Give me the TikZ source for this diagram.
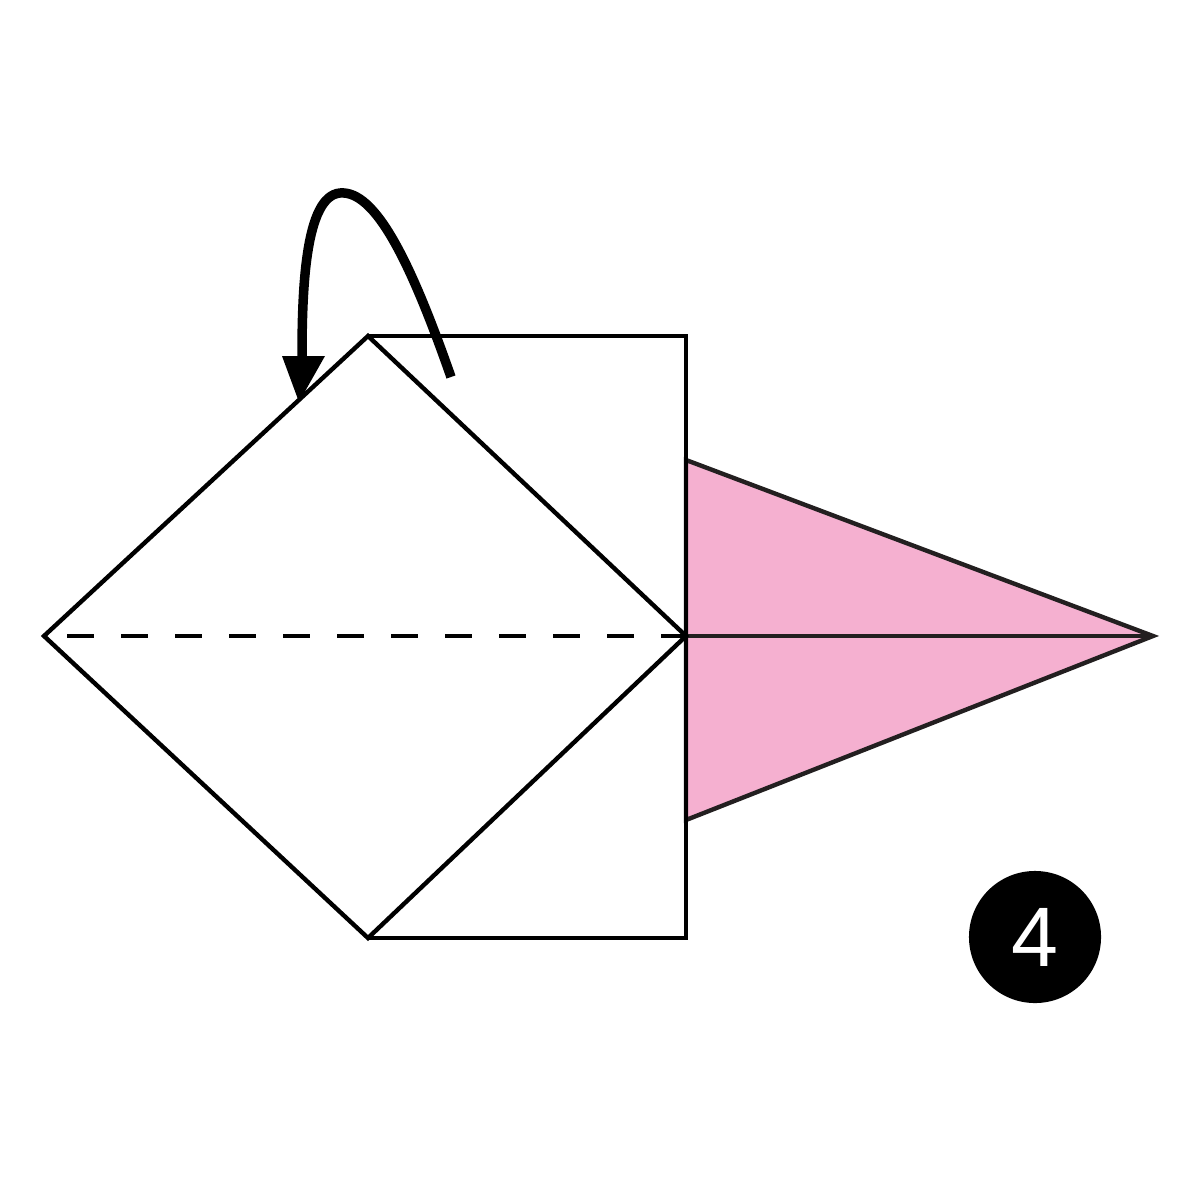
\documentclass[tikz,border=0pt]{standalone}
\usepackage{fontspec}
\setmainfont{Liberation Sans}
\definecolor{pinkfill}{HTML}{F5B0D0}
\definecolor{edge}{HTML}{231F20}
\begin{document}
\begin{tikzpicture}[x=0.01cm,y=-0.01cm,
  fold/.style={line width=1.25pt,line join=miter},
  arrowline/.style={line width=2.7pt},
  numcircle/.style={circle,fill=black,minimum size=1.32cm,inner sep=0pt,text=white,font=\fontsize{24}{24}\selectfont}]
\useasboundingbox (0,0) rectangle (1200,1200);
\fill[white] (0,0) rectangle (1200,1200);
% coordinates
\coordinate (L) at (44,636);
\coordinate (T) at (368,336);
\coordinate (C) at (686,636);
\coordinate (B) at (368,938);
\coordinate (RT) at (686,336);
\coordinate (RB) at (686,938);
\coordinate (PT) at (686,460);
\coordinate (PB) at (686,820);
\coordinate (P) at (1153,636);
\coordinate (DS) at (67,636);
% pink flap
\filldraw[fill=pinkfill,draw=edge,fold] (PT) -- (P) -- (PB) -- cycle;
\draw[edge,fold] (C) -- (P);
% rectangle
\draw[fold] (T) -- (RT) -- (RB) -- (B);
% diamond
\draw[fold] (L) -- (T) -- (C) -- (B) -- cycle;
% dashed valley line
\draw[fold,dash pattern=on 0.27cm off 0.27cm] (DS) -- (C);
% arrow
\coordinate (A0) at (451,377);
\coordinate (A1) at (340,193);
\coordinate (A2) at (302,358);
\draw[arrowline] (A0) .. controls (410,260) and (375,190) .. (A1)
   .. controls (305,196) and (302,290) .. (A2);
\coordinate (H1) at (282,356);
\coordinate (H2) at (325,356);
\coordinate (H3) at (299,402);
\fill (H1) -- (H2) -- (H3) -- cycle;
% step number
\node[numcircle] (num) at (1035,937) {4};
\end{tikzpicture}
\end{document}
